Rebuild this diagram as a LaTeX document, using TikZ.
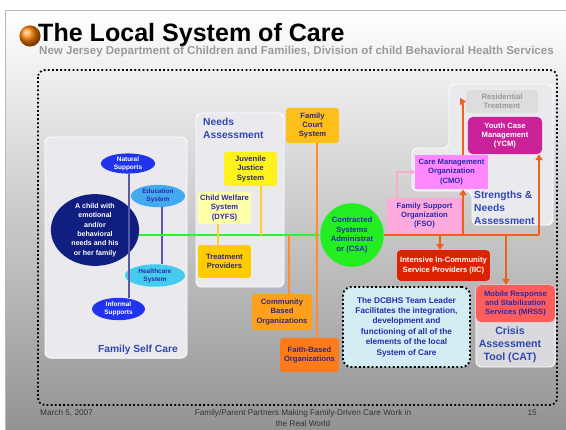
\documentclass[tikz,border=0pt]{standalone}
\usepackage{fontspec}
\setmainfont{Liberation Sans}
\usetikzlibrary{positioning,calc,arrows.meta,shapes.geometric}

\definecolor{slidegray}{HTML}{939393}
\definecolor{subgray}{HTML}{9A9A9A}
\definecolor{footgray}{HTML}{333333}
\definecolor{panelgray}{HTML}{E9E9EE}
\definecolor{catgray}{HTML}{D9D9DE}
\definecolor{labelblue}{HTML}{3048B0}
\definecolor{boxtext}{HTML}{302A7A}
\definecolor{bluetext}{HTML}{2A2AAA}
\definecolor{childnavy}{HTML}{101E80}
\definecolor{supblue}{HTML}{2233EE}
\definecolor{edublue}{HTML}{44AAF0}
\definecolor{hcblue}{HTML}{44CCEE}
\definecolor{jjsyellow}{HTML}{FFF21A}
\definecolor{dyfsyellow}{HTML}{FFFFAA}
\definecolor{tpgold}{HTML}{FFCC00}
\definecolor{courtgold}{HTML}{FFBF1A}
\definecolor{cboorange}{HTML}{FFA01A}
\definecolor{faithorange}{HTML}{FF7B1A}
\definecolor{csagreen}{HTML}{22EE22}
\definecolor{fsopink}{HTML}{FFAADD}
\definecolor{cmopink}{HTML}{FF88FF}
\definecolor{ycmmagenta}{HTML}{CC2299}
\definecolor{resgray}{HTML}{DDDDDD}
\definecolor{iicred}{HTML}{DD2200}
\definecolor{mrssred}{HTML}{FF5C5C}
\definecolor{leadcyan}{HTML}{D2EEF2}
\definecolor{tieblue}{HTML}{5858A8}
\definecolor{feedyellow}{HTML}{FFCC33}
\definecolor{courtorange}{HTML}{FF8C33}
\definecolor{floworange}{HTML}{F0601A}
\definecolor{greenline}{HTML}{33EE33}
\definecolor{pinkline}{HTML}{FFAACC}

\begin{document}
\begin{tikzpicture}[x=0.85pt, y=-0.85pt, font=\bfseries\fontsize{6.5}{8}\selectfont,
    box/.style={rectangle, rounded corners=2.5pt, align=center, inner sep=1pt, text=boxtext},
    oval/.style={ellipse, inner sep=0pt, align=center, font=\bfseries\fontsize{5.5}{7}\selectfont},
    panel/.style={fill=panelgray, draw=white, line width=0.8pt, rounded corners=5pt},
    plabel/.style={inner sep=0pt, text=labelblue, font=\bfseries\fontsize{8.7}{11}\selectfont},
    footer/.style={inner sep=0pt, text=footgray, font=\mdseries\fontsize{7}{9}\selectfont},
    tie/.style={line width=1.2pt, draw=tieblue},
    feed/.style={line width=1.3pt, draw=feedyellow},
    court/.style={line width=1.4pt, draw=courtorange},
    flow/.style={line width=1.5pt, draw=floworange},
    ahead/.style={-{Triangle[width=6pt,length=5pt]}},
    ]
    \useasboundingbox (0,0) rectangle (566,430);
    % slide
    \fill[white] (0,0) rectangle (566,430);
    \shade[top color=white, bottom color=slidegray] (5,10) rectangle (566,430);
    \draw[gray!55, line width=0.8pt] (566,10) -- (5,10) -- (5,430);
    \shade[ball color=orange] (30,36) circle (9pt);
    \node[anchor=base west, inner sep=0pt, font=\bfseries\fontsize{21.3}{24}\selectfont] (title) at (38,41) {The Local System of Care};
    \node[anchor=base west, inner sep=0pt, text=subgray, font=\bfseries\fontsize{9.8}{11}\selectfont] (subtitle) at (39,54)
    {New Jersey Department of Children and Families, Division of child Behavioral Health Services};
    \draw[black, dotted, line width=1.5pt, rounded corners=6pt] (38,70) rectangle (557,405);

    % panels
    \node[panel, minimum width=120.7pt, minimum height=187.9pt] (selfcare) at (116,247.5) {};
    \node[panel, minimum width=74.8pt, minimum height=147.9pt] (needs) at (240,200) {};
    \draw[panel] (449,84) -- (553,84) -- (553,225) -- (472,225) -- (472,191) -- (412,191)
    -- (412,148) -- (449,148) -- cycle;
    \node[panel, fill=catgray, minimum width=67.2pt, minimum height=69.7pt] (crisis) at (515.5,326) {};
    \node[plabel, anchor=base east] (selfcarelabel) at (178,352) {Family Self Care};
    \node[plabel, anchor=north west, align=left] (needslabel) at (203,118) {Needs\\Assessment};
    \node[plabel, anchor=north west, align=left] (snalabel) at (474,191) {Strengths \&\\Needs\\Assessment};
    \node[plabel, align=center, font=\bfseries\fontsize{9}{11}\selectfont] (catlabel) at (510,345) {Crisis\\Assessment\\Tool (CAT)};

    % family self care
    \node[ellipse, fill=childnavy, minimum width=75pt, minimum height=61pt] (child) at (95,230) {};
    \node[align=center, text=white, font=\bfseries\fontsize{6}{7.9}\selectfont] (childtext) at (child.center)
    {A child with\\emotional\\and/or\\behavioral\\needs and his\\or her family};
    \node[oval, fill=supblue, text=white, minimum width=46pt, minimum height=16pt] (nat) at (128,163.5) {Natural\\Supports};
    \node[oval, fill=edublue, text=bluetext, minimum width=46pt, minimum height=19pt] (edu) at (158,196) {Education\\System};
    \node[oval, fill=hcblue, text=bluetext, minimum width=51pt, minimum height=19pt] (hc) at (155,275.5) {Healthcare\\System};
    \node[oval, fill=supblue, text=white, minimum width=45pt, minimum height=19pt] (inf) at (118.5,309) {Informal\\Supports};
    \draw[tie] (129,0 |- nat.south) -- (129,0 |- inf.north);
    \draw[tie] (162,0 |- edu.south) -- (162,0 |- hc.north);

    % needs assessment and community
    \node[box, fill=jjsyellow, minimum width=45pt, minimum height=29pt] (jjs) at (250.5,169) {Juvenile\\Justice\\System};
    \node[box, fill=dyfsyellow, text=bluetext, minimum width=45pt, minimum height=27pt] (dyfs) at (224.5,208) {Child Welfare\\System\\(DYFS)};
    \node[box, fill=tpgold, minimum width=45pt, minimum height=28pt] (tp) at (224.5,261.5) {Treatment\\Providers};
    \node[box, fill=courtgold, minimum width=45pt, minimum height=30pt] (court) at (312.5,125.5) {Family\\Court\\System};
    \node[box, fill=cboorange, minimum width=51pt, minimum height=30.6pt] (cbo) at (282,312) {Community\\Based\\Organizations};
    \node[box, fill=faithorange, minimum width=50pt, minimum height=29pt] (faith) at (309.5,355) {Faith-Based\\Organizations};
    \node[circle, fill=csagreen, text=bluetext, align=center, inner sep=0pt, minimum size=54pt] (csa) at (352,235)
    {Contracted\\Systems\\Administrat\\or (CSA)};

    \draw[line width=1.3pt, draw=greenline, -{Triangle[width=5pt,length=4pt]}] (child.east |- csa.west) -- (csa.west);
    \draw[feed] (261,0 |- jjs.south) -- (261,0 |- csa.west);
    \draw[feed] (218,0 |- dyfs.south) -- (218,0 |- tp.north);
    \draw[court] (289,0 |- csa.west) -- (289,0 |- cbo.north);
    \draw[court] (317,0 |- court.south) -- (317,0 |- faith.north);

    % strengths and needs
    \node[box, fill=resgray, text=subgray, minimum width=61pt, minimum height=19.5pt] (res) at (502,101.5) {Residential\\Treatment};
    \node[box, fill=ycmmagenta, text=white, rounded corners=4pt, minimum width=63pt, minimum height=31.5pt] (ycm) at (505,135.5) {Youth Case\\Management\\(YCM)};
    \node[box, fill=cmopink, text=bluetext, rounded corners=0pt, minimum width=62pt, minimum height=29pt] (cmo) at (451.5,172) {Care Management\\Organization\\(CMO)};
    \node[box, fill=fsopink, text=bluetext, minimum width=64pt, minimum height=30pt] (fso) at (424.5,215.5) {Family Support\\Organization\\(FSO)};
    \node[box, fill=iicred, text=white, rounded corners=3pt, minimum width=79pt, minimum height=26pt] (iic) at (443.5,265.5) {Intensive In-Community\\Service Providers (IIC)};
    \node[box, fill=mrssred, text=bluetext, rounded corners=4pt, minimum width=67pt, minimum height=31.5pt] (mrss) at (515.5,303.5) {Mobile Response\\and Stabilization\\Services (MRSS)};
    \node[box, fill=leadcyan, draw=black, dotted, line width=1.6pt, rounded corners=7pt, text=bluetext,
    minimum width=108pt, minimum height=68pt, font=\bfseries\fontsize{7}{8.8}\selectfont] (leader) at (406.5,327)
    {The DCBHS Team Leader\\Facilitates the integration,\\development and\\functioning of all of the\\elements of the local\\System of Care};

    \draw[line width=1.3pt, draw=pinkline, -{Triangle[width=5pt,length=4pt]}] (397,0 |- fso.north) |- (cmo.west);
    \draw[flow] (csa.east) -- (539,0 |- csa.east);
    \draw[flow, ahead] (440,0 |- csa.east) -- (440,0 |- iic.north);
    \draw[flow, ahead] (463,0 |- csa.east) -- (463,0 |- cmo.south);
    \draw[flow, ahead] (463,0 |- cmo.north) |- (res.west);
    \draw[flow, ahead] (506,0 |- csa.east) -- (506,0 |- mrss.north);
    \draw[flow, ahead] (539,0 |- csa.east) -- (539,0 |- ycm.south);

    % footer
    \node[footer, anchor=base west] (date) at (40,415) {March 5, 2007};
    \node[footer, anchor=base] (event) at (303,415) {Family/Parent Partners Making Family-Driven Care Work in};
    \node[footer, anchor=base] (event2) at (303,426) {the Real World};
    \node[footer, anchor=base east] (page) at (537,415) {15};
\end{tikzpicture}
\end{document}
